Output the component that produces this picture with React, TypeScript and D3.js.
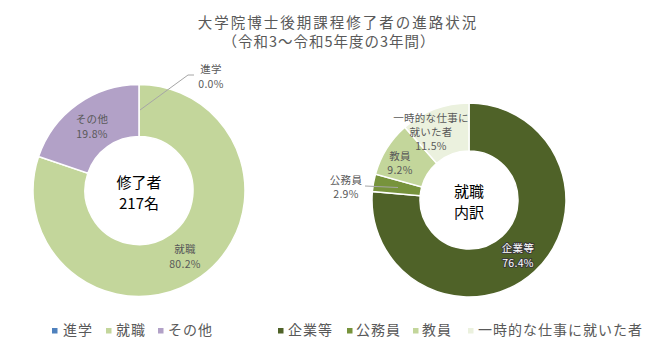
import React from "react";
import * as d3 from "d3";

const leftCategories = ["進学", "就職", "その他"];
const leftValues = [0.0, 80.2, 19.8];
const leftColors = ["#4F81BD", "#C3D69B", "#B2A1C7"];

const rightCategories = ["企業等", "公務員", "教員", "一時的な仕事に就いた者"];
const rightValues = [76.4, 2.9, 9.2, 11.5];
const rightColors = ["#4F6228", "#77933C", "#C3D69B", "#EBF1DE"];

const titleLines = ["大学院博士後期課程修了者の進路状況", "（令和3～令和5年度の3年間）"];
const leftCenterText = ["修了者", "217名"];
const rightCenterText = ["就職", "内訳"];

const FONT = "'Noto Sans CJK JP', 'Noto Sans', sans-serif";
const TXT = "#595959";

type LabelSpec = { lines: string[]; x: number; y: number; fill?: string; halo?: boolean; dy?: number };

function Donut({ cx, cy, outer, inner, values, colors }: { cx: number; cy: number; outer: number; inner: number; values: number[]; colors: string[] }) {
  const pie = d3.pie<number>().sort(null).value((d) => d)(values);
  const arc = d3.arc<d3.PieArcDatum<number>>().innerRadius(inner).outerRadius(outer);
  return (
    <g transform={`translate(${cx},${cy})`}>
      {pie.map((p, i) =>
        p.endAngle - p.startAngle > 0 ? (
          <path key={i} d={arc(p) || ""} fill={colors[i]} stroke="#fff" strokeWidth={1.5} />
        ) : null
      )}
    </g>
  );
}

function Label({ spec, size = 10.5 }: { spec: LabelSpec; size?: number }) {
  const lh = spec.dy ?? 15;
  return (
    <text
      x={spec.x}
      y={spec.y}
      textAnchor="middle"
      fontFamily={FONT}
      fontSize={size}
      letterSpacing={0.3}
      fill={spec.fill || TXT}
      stroke={spec.halo ? "#3a3a3a" : undefined}
      strokeWidth={spec.halo ? 2 : undefined}
      paintOrder="stroke"
      strokeLinejoin="round"
    >
      {spec.lines.map((l, i) => (
        <tspan key={i} x={spec.x} dy={i === 0 ? 0 : lh}>
          {l}
        </tspan>
      ))}
    </text>
  );
}

export default function App() {
  const W = 653, H = 355;
  const L = { cx: 139, cy: 190.5, outer: 106, inner: 54 };
  const R = { cx: 469, cy: 200, outer: 97, inner: 49 };

  const leftLabels: LabelSpec[] = [
    { lines: ["進学", "0.0%"], x: 211, y: 73 },
    { lines: ["就職", "80.2%"], x: 185, y: 253 },
    { lines: ["その他", "19.8%"], x: 92, y: 123 },
  ];
  const rightLabels: LabelSpec[] = [
    { lines: ["企業等", "76.4%"], x: 518, y: 252, fill: "#fff", halo: true },
    { lines: ["公務員", "2.9%"], x: 346, y: 184, dy: 14 },
    { lines: ["教員", "9.2%"], x: 400, y: 160, dy: 14 },
    { lines: ["一時的な仕事に", "就いた者", "11.5%"], x: 431, y: 122, dy: 14 },
  ];

  const legendLeftSq = [52, 106, 158];
  const legendLeftTx = [63, 116, 168];
  const legendRightSq = [278, 347, 413, 468];
  const legendRightTx = [288, 356, 422, 478];
  const legendBase = 335;

  const legendItems = [
    ...leftCategories.map((c, i) => ({ c, color: leftColors[i], sq: legendLeftSq[i], tx: legendLeftTx[i] })),
    ...rightCategories.map((c, i) => ({ c, color: rightColors[i], sq: legendRightSq[i], tx: legendRightTx[i] })),
  ];

  return (
    <svg width={W} height={H} style={{ position: "absolute", left: 0, top: 0, background: "#fff" }}>
      <rect width={W} height={H} fill="#fff" />
      <text x={338} y={28} textAnchor="middle" fontFamily={FONT} fontSize={14.5} letterSpacing={2} fill={TXT}>
        {titleLines[0]}
      </text>
      <text x={329} y={47} textAnchor="middle" fontFamily={FONT} fontSize={14.5} letterSpacing={1} fill={TXT}>
        {titleLines[1]}
      </text>

      <Donut {...L} values={leftValues} colors={leftColors} />
      <Donut {...R} values={rightValues} colors={rightColors} />

      {/* leader lines */}
      <polyline points="140,110 188,75 194,75" fill="none" stroke="#A6A6A6" strokeWidth={1} />
      <polyline points="365,186 398,187.5" fill="none" stroke="#A6A6A6" strokeWidth={1} />

      {leftLabels.map((s, i) => <Label key={i} spec={s} />)}
      {rightLabels.map((s, i) => <Label key={i} spec={s} />)}

      <text x={L.cx} y={L.cy - 3} textAnchor="middle" fontFamily={FONT} fontSize={15} fill="#000">{leftCenterText[0]}</text>
      <text x={L.cx} y={L.cy + 18} textAnchor="middle" fontFamily={FONT} fontSize={15} fill="#000">{leftCenterText[1]}</text>
      <text x={R.cx} y={R.cy - 3} textAnchor="middle" fontFamily={FONT} fontSize={15} fill="#000">{rightCenterText[0]}</text>
      <text x={R.cx} y={R.cy + 18} textAnchor="middle" fontFamily={FONT} fontSize={15} fill="#000">{rightCenterText[1]}</text>

      {legendItems.map((d, i) => (
        <g key={i}>
          <rect x={d.sq} y={legendBase - 7} width={5.5} height={5.5} fill={d.color} />
          <text x={d.tx} y={legendBase} fontFamily={FONT} fontSize={14} letterSpacing={1} fill={TXT}>{d.c}</text>
        </g>
      ))}
    </svg>
  );
}
